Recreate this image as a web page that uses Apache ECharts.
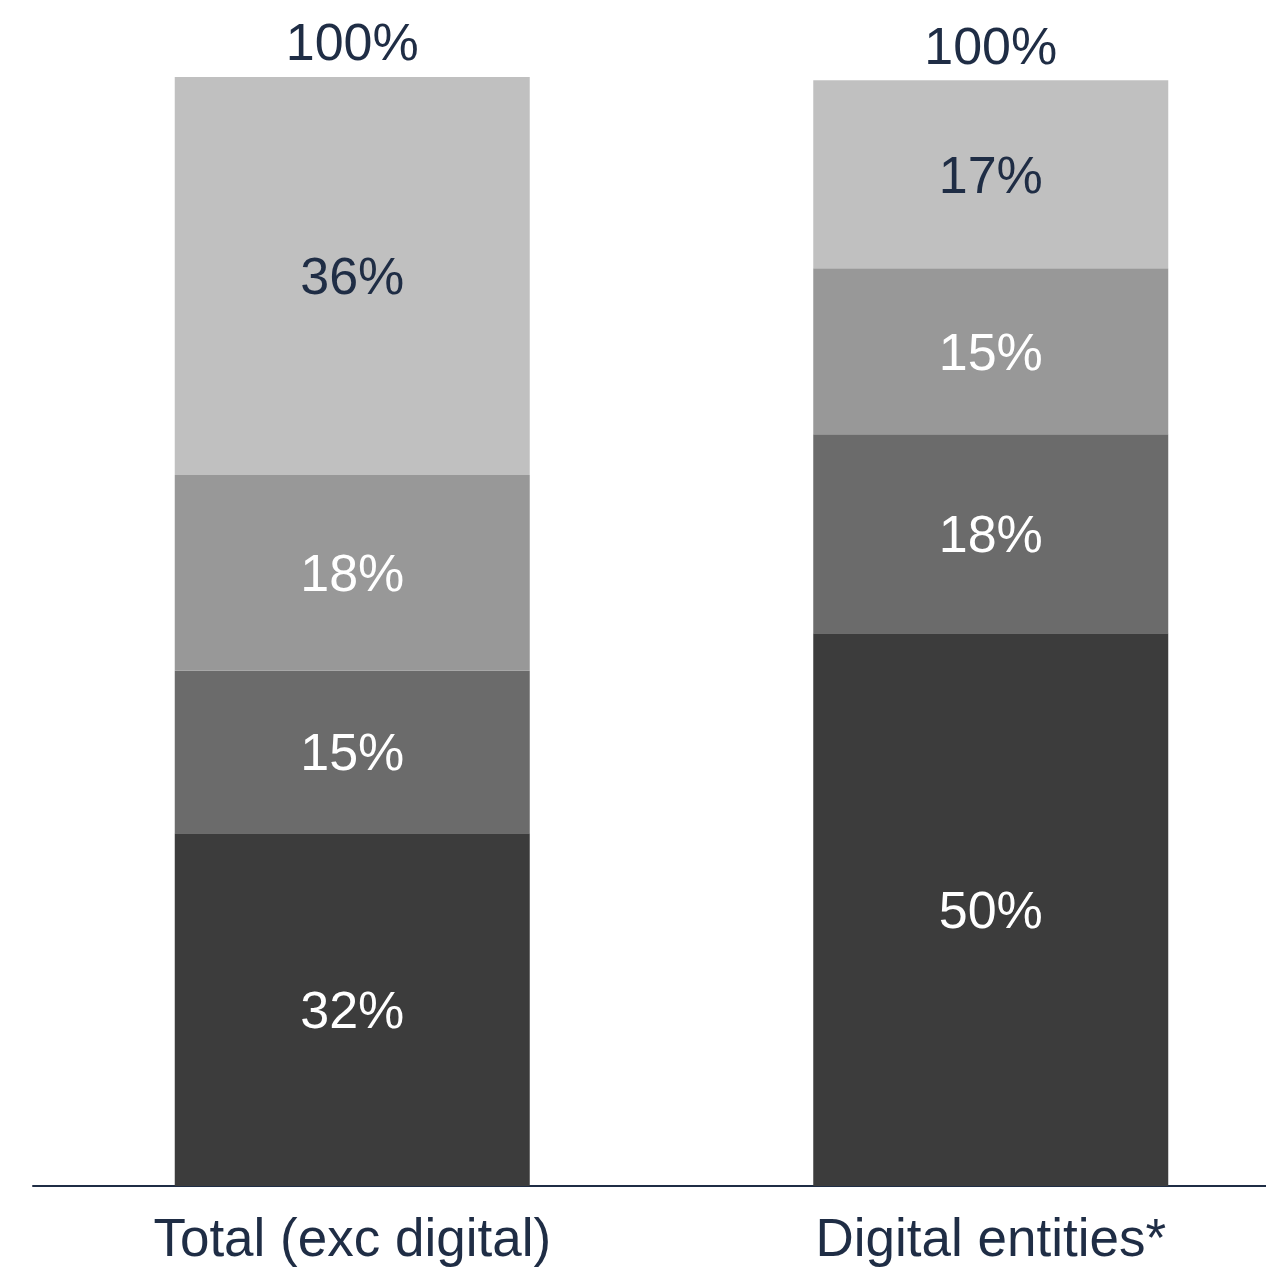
<!DOCTYPE html>
<html>
<head>
<meta charset="utf-8">
<script src="https://cdn.jsdelivr.net/npm/echarts@6/dist/echarts.min.js"></script>
<style>
  html, body { margin: 0; padding: 0; background: #ffffff; overflow: hidden; }
  /* wider than the window: the axis runs off the right edge like the original */
  #chart { width: 1310px; height: 1268px; }
</style>
</head>
<body>
<div id="chart"></div>
<script>
// data
const categories = ['Total (exc digital)', 'Digital entities*'];
const seg1 = [31.9, 50];   // bottom, darkest
const seg2 = [14.7, 18];
const seg3 = [17.7, 15];
const seg4 = [36.0, 17];   // top, lightest
const totals = [100, 100];

const navy = '#1f2d45';
const font = '"Liberation Sans", Arial, sans-serif';
const colors = ['#3c3c3c', '#6b6b6b', '#989898', '#c0c0c0'];
const labelColors = ['#ffffff', '#ffffff', '#ffffff', navy];

const chart = echarts.init(document.getElementById('chart'));

const segs = [seg1, seg2, seg3, seg4].map((data, i) => ({
  type: 'bar',
  stack: 'all',
  data: data,
  barWidth: 355,
  itemStyle: { color: colors[i] },
  label: {
    show: true,
    position: 'inside',
    offset: [0, 4],
    color: labelColors[i],
    fontSize: 52,
    fontFamily: font,
    formatter: p => Math.round(p.value) + '%'
  },
  silent: true
}));

// zero-height bar on top of each stack carries the total label
segs.push({
  type: 'bar',
  stack: 'all',
  data: totals.map(() => 0),
  barWidth: 355,
  itemStyle: { color: 'transparent' },
  label: {
    show: true,
    position: 'top',
    distance: 5,
    color: navy,
    fontSize: 52,
    fontFamily: font,
    formatter: p => totals[p.dataIndex] + '%'
  },
  silent: true
});

chart.setOption({
  animation: false,
  grid: { left: 33, right: 0, top: 77, bottom: 81 },
  xAxis: {
    type: 'category',
    data: categories,
    axisLine: { lineStyle: { color: navy, width: 2 } },
    axisTick: { show: false },
    axisLabel: { color: navy, fontSize: 53, fontFamily: font, margin: 29 }
  },
  yAxis: {
    type: 'value',
    min: 0,
    max: 100.3,
    show: false,
    splitLine: { show: false }
  },
  series: segs
});
</script>
</body>
</html>
